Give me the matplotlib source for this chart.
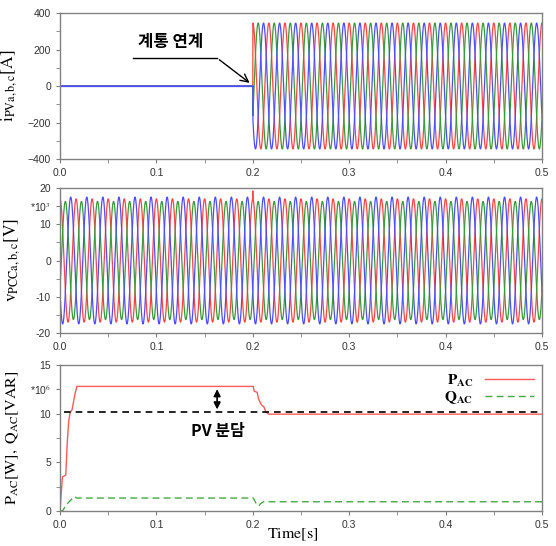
import numpy as np
import matplotlib.pyplot as plt

plt.rcParams['font.family'] = ['Liberation Sans', 'DejaVu Sans']
plt.rcParams['mathtext.fontset'] = 'stix'

# ---- data ----
freq = 60.0                     # Hz
t_connect = 0.2                 # grid connection instant [s]
i_amp = [345, 345, 345]         # PV current amplitude a,b,c [A]
v_amp = [17.0, 16.3, 17.5]      # PCC voltage amplitude a,b,c [kV]
v_spike = 19.2                  # phase-a voltage spike at connection [kV]
phase_deg = [0, -120, 120]
phase_colors = ['#ff4444', '#3a9a3a', '#4d4dff']

p_t = [0, 0.0025, 0.006, 0.0075, 0.009, 0.0105, 0.0125, 0.0155, 0.0175,
       0.2005, 0.2015, 0.2045, 0.206, 0.209, 0.2115, 0.2135, 0.2165, 0.5]
p_val = [0, 3.5, 3.7, 7.0, 9.2, 10.1, 10.4, 12.0, 12.8,
         12.8, 12.3, 12.2, 11.5, 10.9, 10.7, 10.2, 9.95, 9.95]
q_t = [0, 0.003, 0.006, 0.009, 0.011, 0.015, 0.017,
       0.2005, 0.2036, 0.206, 0.208, 0.211, 0.5]
q_val = [0, 0.05, 0.6, 0.9, 1.1, 1.5, 1.33,
         1.33, 0.75, 0.5, 0.75, 0.95, 0.95]
pv_share_level = 10.15

t = np.linspace(0, 0.5, 6001)
w = 2 * np.pi * freq

fig = plt.figure(figsize=(5.56, 5.46), dpi=100)
L, W = 60 / 556, 482 / 556
ax1 = fig.add_axes([L, 1 - 159 / 546, W, 146 / 546])
ax2 = fig.add_axes([L, 1 - 333 / 546, W, 145 / 546])
ax3 = fig.add_axes([L, 1 - 511 / 546, W, 146 / 546])

spine_c = '#808080'
tick_c = '#333333'
for ax in (ax1, ax2, ax3):
    for s in ax.spines.values():
        s.set_color(spine_c)
        s.set_linewidth(1.0)
    ax.set_xlim(0, 0.5)
    ax.set_xticks([0, 0.1, 0.2, 0.3, 0.4, 0.5])
    ax.set_xticklabels(['0.0', '0.1', '0.2', '0.3', '0.4', '0.5'])
    ax.set_xticks(np.arange(0.05, 0.5, 0.1), minor=True)
    ax.tick_params(which='both', direction='out', color=spine_c,
                   labelsize=7.5, labelcolor=tick_c, length=3)

# ---- top: PV currents ----
for amp, ph, c in zip(i_amp, phase_deg, phase_colors):
    y = np.where(t >= t_connect, amp * np.cos(w * t + np.radians(ph)), 0.0)
    ax1.plot(t, y, color=c, lw=0.9)
ax1.plot([0, t_connect], [0, 0], color=phase_colors[2], lw=0.9)
ax1.set_ylim(-400, 400)
ax1.set_yticks([-400, -200, 0, 200, 400])
ax1.set_yticks([-300, -100, 100, 300], minor=True)
ax1.set_ylabel(r'$\mathrm{i}_{\mathrm{PVa,b,c}}[\mathrm{A}]$', fontsize=12.5,
               labelpad=6)
ax1.plot([0.076, 0.163], [153, 153], color='black', lw=1.0)
ax1.annotate('', xy=(0.199, 8), xytext=(0.163, 153),
             arrowprops=dict(arrowstyle='->', color='black', lw=1.0,
                             mutation_scale=14))
ax1.text(0.115, 241, '계통 연계', ha='center', va='center', fontsize=12,
         fontweight='bold', family=['Noto Sans CJK KR', 'DejaVu Sans'])

# ---- middle: PCC voltages ----
for amp, ph, c in zip(v_amp, phase_deg, phase_colors):
    y = amp * np.cos(w * t + np.radians(ph))
    if ph == 0:
        k = np.argmin(np.abs(t - t_connect))
        y[k] = v_spike
    ax2.plot(t, y, color=c, lw=0.9)
ax2.set_ylim(-20, 20)
ax2.set_yticks([-20, -10, 0, 10, 15, 20])
ax2.set_yticklabels(['-20', '-10', '0', '10', r'*10$^{3}$', '20'])
ax2.set_yticks([-15, -5, 5], minor=True)
ax2.set_ylabel(r'$\mathrm{v}_{\mathrm{PCCa,b,c}}[\mathrm{V}]$', fontsize=12.5,
               labelpad=6)

# ---- bottom: active / reactive power ----
ax3.plot(p_t, p_val, color='#ff5a5a', lw=1.0, label=r'$\mathbf{P}_{\mathbf{AC}}$')
ax3.plot(q_t, q_val, color='#44aa44', lw=1.0, ls=(0, (5, 3)),
         label=r'$\mathbf{Q}_{\mathbf{AC}}$')
ax3.plot([0.004, 0.5], [pv_share_level] * 2, color='black', lw=1.2,
         ls=(0, (4, 3)))
ax3.annotate('', xy=(0.163, pv_share_level), xytext=(0.163, 12.8),
             arrowprops=dict(arrowstyle='<|-|>', color='black', lw=1.2,
                             mutation_scale=10))
ax3.text(0.164, 8.2, 'PV 분담', ha='center', va='center', fontsize=11.5,
         fontweight='bold', family=['Noto Sans CJK KR', 'DejaVu Sans'])
ax3.set_ylim(0, 15)
ax3.set_yticks([0, 5, 10, 12.5, 15])
ax3.set_yticklabels(['0', '5', '10', r'*10$^{6}$', '15'])
ax3.set_yticks([2.5, 7.5], minor=True)
ax3.set_ylabel(r'$\mathrm{P}_{\mathrm{AC}}[\mathrm{W}],\ \mathrm{Q}_{\mathrm{AC}}[\mathrm{VAR}]$',
               fontsize=11.5, labelpad=6)
fig.text(0.5 + 15 / 556, 1 - 535 / 546, r'$\mathrm{Time[s]}$', ha='center',
         va='center', fontsize=11.5)
ax3.legend(loc='upper right', frameon=False, markerfirst=False, fontsize=11,
           handlelength=3.2, borderaxespad=0.1, labelspacing=0.05)

fig.savefig('out.png', dpi=100)
